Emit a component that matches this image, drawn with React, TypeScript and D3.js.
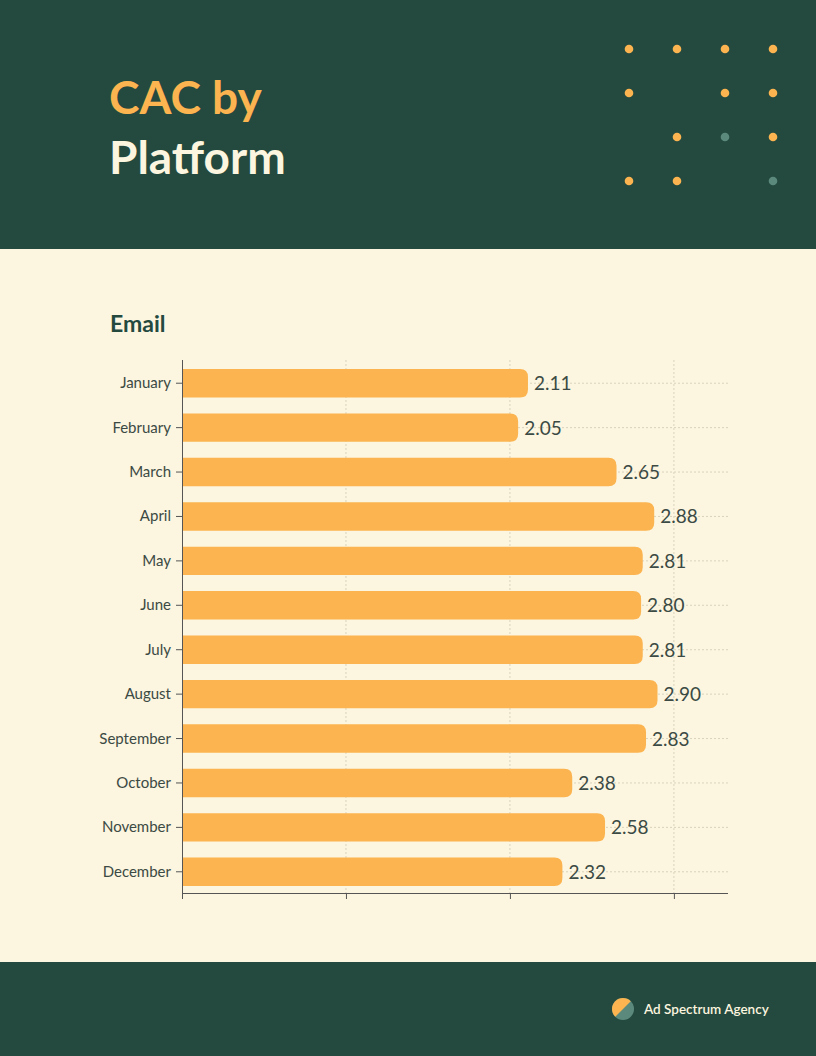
import React from "react";
import * as d3 from "d3";

const months = ["January","February","March","April","May","June","July","August","September","October","November","December"];
const values = [2.11, 2.05, 2.65, 2.88, 2.81, 2.80, 2.81, 2.90, 2.83, 2.38, 2.58, 2.32];
const xTicks = [0, 1, 2, 3];
const dotRows = [
  ["o","o","o","o"],
  ["o","","o","o"],
  ["","o","t","o"],
  ["o","o","","t"],
];

const W = 816, H = 1056;
const DARK = "#244a3f";
const CREAM = "#fcf5df";
const ORANGE = "#fbb44f";
const TEAL = "#5b8a7d";
const FONT = "Lato, 'Open Sans', sans-serif";

export default function App() {
  const x = d3.scaleLinear().domain([0, 3.33]).range([182, 728]);
  const y = d3.scaleBand<string>().domain(months).range([361, 894]).paddingInner(0.36).paddingOuter(0.18);
  const bh = y.bandwidth();
  const r = 8;
  const barPath = (v: number, m: string) => {
    const x0 = x(0), x1 = x(v), y0 = y(m)!, y1 = y0 + bh;
    return `M${x0},${y0}H${x1 - r}Q${x1},${y0} ${x1},${y0 + r}V${y1 - r}Q${x1},${y1} ${x1 - r},${y1}H${x0}Z`;
  };
  const dotX = d3.scalePoint<number>().domain([0,1,2,3]).range([629, 773]);
  const dotY = d3.scalePoint<number>().domain([0,1,2,3]).range([49, 181]);
  return (
    <div style={{ position: "absolute", left: 0, top: 0 }}>
      <svg width={W} height={H} style={{ display: "block" }}>
        <rect x={0} y={0} width={W} height={H} fill={CREAM} />
        <rect x={0} y={0} width={W} height={249} fill={DARK} />
        <rect x={0} y={962} width={W} height={94} fill={DARK} />
        <text x={109} y={114} fill={ORANGE} fontFamily={FONT} fontWeight={700} fontSize={46}>CAC by</text>
        <text x={109} y={174} fill={CREAM} fontFamily={FONT} fontWeight={700} fontSize={46}>Platform</text>
        {dotRows.map((row, i) => row.map((c, j) => c ? (
          <circle key={`${i}-${j}`} cx={dotX(j)} cy={dotY(i)} r={4.3} fill={c === "o" ? ORANGE : TEAL} />
        ) : null))}
        <text x={110} y={332} fill={DARK} fontFamily={FONT} fontWeight={700} fontSize={23}>Email</text>
        {xTicks.slice(1).map(t => (
          <line key={t} x1={x(t)} x2={x(t)} y1={360} y2={893} stroke="#d9d3bd" strokeDasharray="2,2" strokeWidth={1} />
        ))}
        {months.map(m => (
          <line key={m} x1={182} x2={728} y1={y(m)! + bh / 2} y2={y(m)! + bh / 2} stroke="#d9d3bd" strokeDasharray="2,2" strokeWidth={1} />
        ))}
        {months.map((m, i) => (
          <path key={m} d={barPath(values[i], m)} fill={ORANGE} />
        ))}
        {months.map((m, i) => (
          <text key={m} x={x(values[i]) + 6} y={y(m)! + bh / 2 + 7} fill="#3b4a44" fontFamily={FONT} fontSize={19}>{values[i].toFixed(2)}</text>
        ))}
        <line x1={182.5} x2={182.5} y1={360} y2={893} stroke="#555" strokeWidth={1} />
        <line x1={182} x2={728} y1={893.5} y2={893.5} stroke="#555" strokeWidth={1} />
        {xTicks.map(t => (
          <line key={t} x1={x(t) + 0.5} x2={x(t) + 0.5} y1={893} y2={899} stroke="#555" />
        ))}
        {months.map(m => (
          <g key={m}>
            <line x1={176} x2={182} y1={y(m)! + bh / 2} y2={y(m)! + bh / 2} stroke="#555" />
            <text x={171} y={y(m)! + bh / 2 + 5} textAnchor="end" fill="#3b4a44" fontFamily={FONT} fontSize={15}>{m}</text>
          </g>
        ))}
        <clipPath id="logoClip"><circle cx={623} cy={1009} r={11} /></clipPath>
        <g clipPath="url(#logoClip)">
          <rect x={610} y={996} width={26} height={26} fill={TEAL} />
          <path d="M610,996 H636 L610,1022 Z" fill={ORANGE} />
        </g>
        <text x={644} y={1014} fill={CREAM} fontFamily={FONT} fontWeight={600} fontSize={13.5}>Ad Spectrum Agency</text>
      </svg>
    </div>
  );
}
